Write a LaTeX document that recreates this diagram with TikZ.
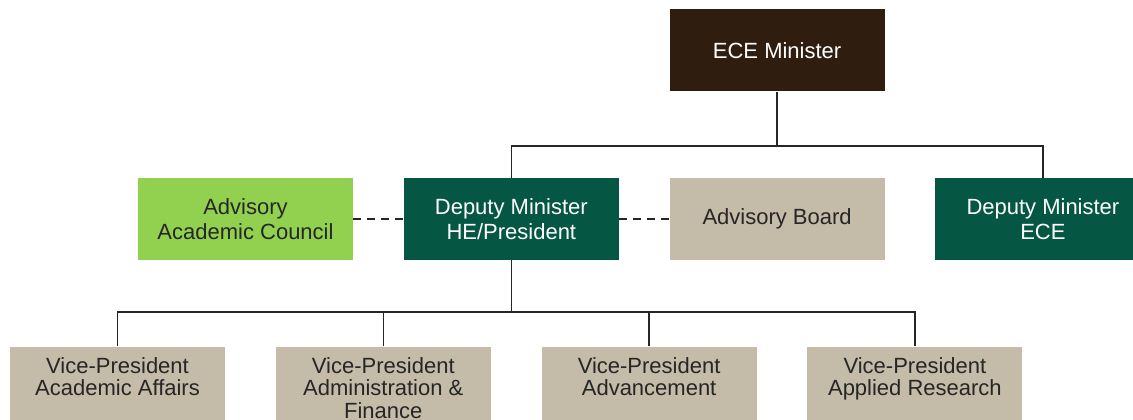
\documentclass[tikz,border=0pt]{standalone}
\usepackage{fontspec}
\setmainfont{Liberation Sans}
\usepackage{tikz}
\usetikzlibrary{positioning,calc}

\definecolor{minbrown}{HTML}{2F1E0F}
\definecolor{depgreen}{HTML}{055744}
\definecolor{advgreen}{HTML}{92D050}
\definecolor{boxtan}{HTML}{C4BBA8}

\begin{document}
\begin{tikzpicture}[
		every node/.style={align=center, inner sep=2pt,
			minimum width=107.5pt, minimum height=41pt},
		toprow/.style={font=\fontsize{11}{12.5}\selectfont},
		vprow/.style={fill=boxtan, text=black!85, font=\fontsize{11}{11.25}\selectfont},
		conn/.style={draw=black!85, line width=0.8pt},
		link/.style={draw=black!85, line width=0.8pt, dash pattern=on 4pt off 3pt},
		node distance=43pt and 25pt
		]
		% Рамка рисунка
		\clip (0,0) rectangle (566.5pt,209.5pt);
		
		% Средний ряд
		\node[toprow, fill=advgreen, text=black!85] (council) at (122.75pt,100pt) {Advisory\\Academic Council};
		\node[toprow, fill=depgreen, text=white, right=of council] (dephe) {Deputy Minister\\HE/President};
		\node[toprow, fill=boxtan, text=black!85, right=of dephe] (board) {Advisory Board};
		\node[toprow, fill=depgreen, text=white, right=of board] (depece) {Deputy Minister\\ECE};
		
		% Министр
		\node[toprow, fill=minbrown, text=white, above=of board] (ece) {ECE Minister};
		
		% Вице-президенты
		\node[vprow, below=of dephe, xshift=-64pt] (vpadm) {Vice-President\\Administration \&\\Finance};
		\node[vprow, left=of vpadm] (vpacad) {Vice-President\\Academic Affairs\\\mbox{}};
		\node[vprow, right=of vpadm] (vpadv) {Vice-President\\Advancement\\\mbox{}};
		\node[vprow, right=of vpadv] (vpres) {Vice-President\\Applied Research\\\mbox{}};
		
		% Шины
		\coordinate (topbus) at ($(ece.south)!0.63!(board.north)$);
		\coordinate (botbus) at ($(dephe.south)!0.6!(vpadm.north)$);
		
		% Линии подчинения
		\draw[conn] (ece.south) -- (ece.south |- topbus);
		\draw[conn] (dephe.north) |- (depece.north |- topbus) -- (depece.north);
		
		\draw[conn] (dephe.south) -- (dephe.south |- botbus);
		\draw[conn] (vpacad.north) |- (vpres.north |- botbus) -- (vpres.north);
		\draw[conn] (vpadm.north) -- (vpadm.north |- botbus);
		\draw[conn] (vpadv.north) -- (vpadv.north |- botbus);
		
		% Совещательные связи
		\draw[link] (council) -- (dephe);
		\draw[link] (dephe) -- (board);
	\end{tikzpicture}
\end{document}
